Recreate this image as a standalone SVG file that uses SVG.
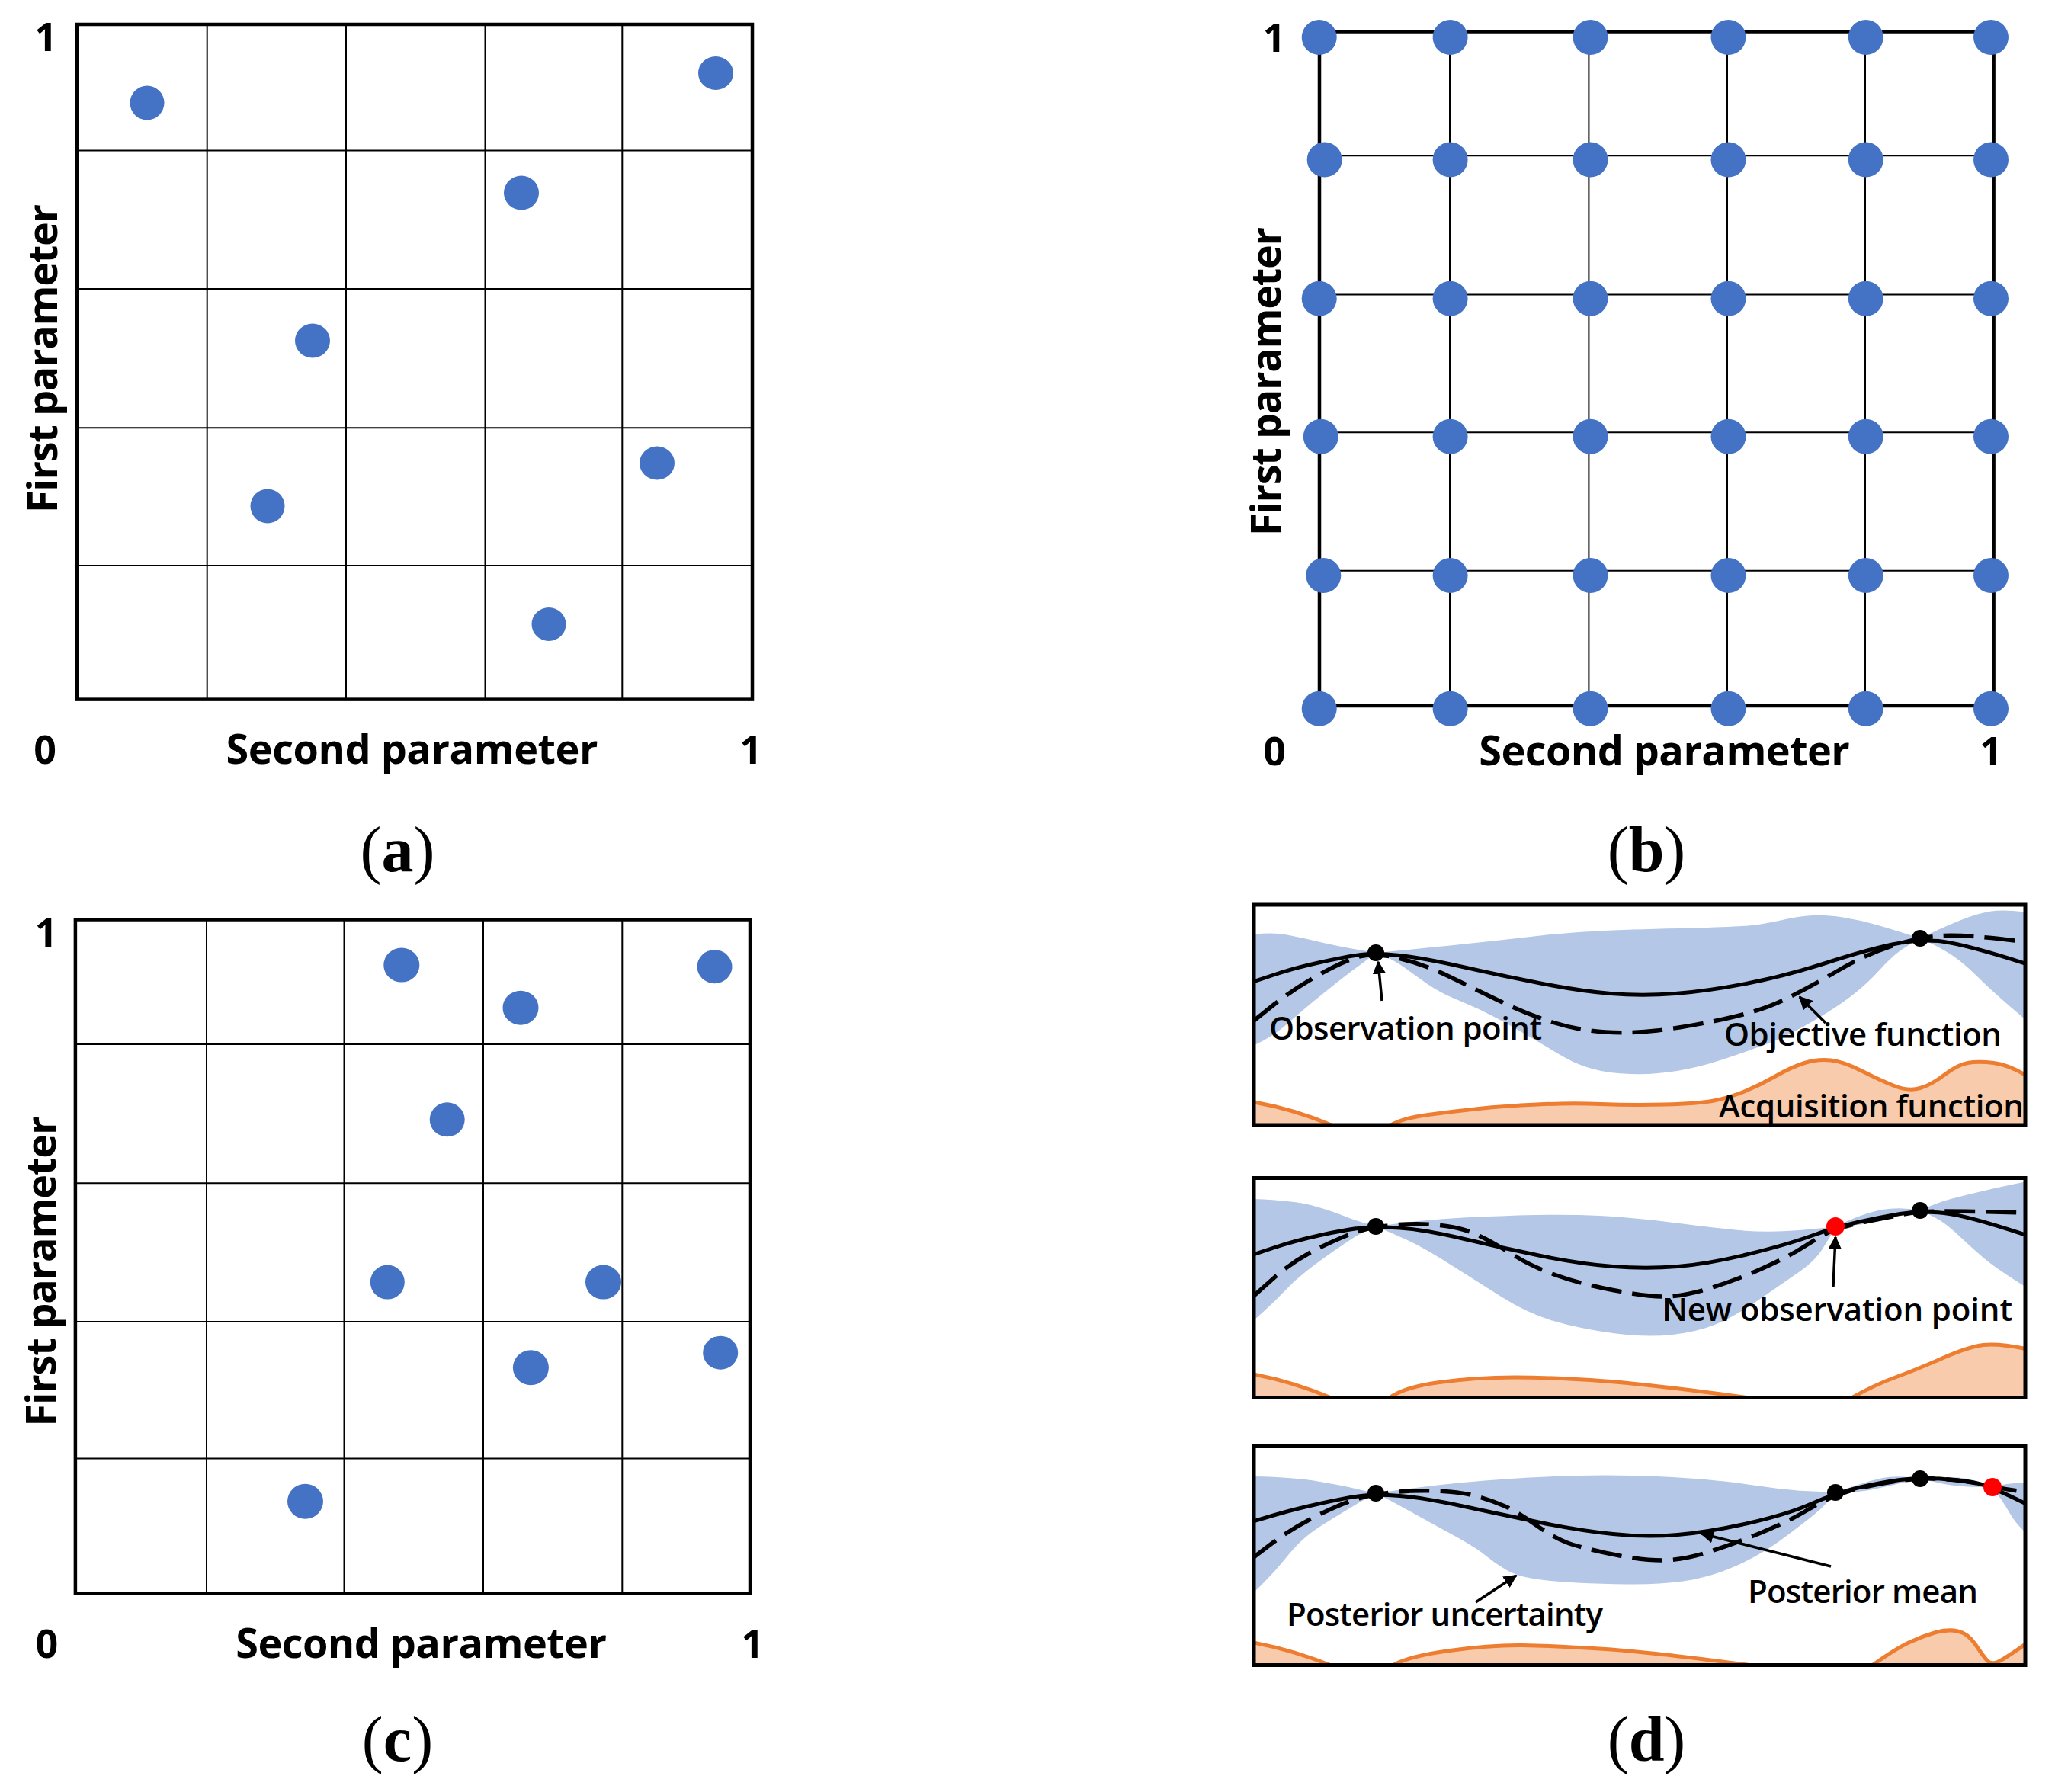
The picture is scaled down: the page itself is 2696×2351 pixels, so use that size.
<svg xmlns="http://www.w3.org/2000/svg" width="2696" height="2351" viewBox="0 0 2696 2351">
<style>
.grid{stroke:#000;stroke-width:2;fill:none}
.frame{stroke:#000;stroke-width:4.5;fill:none}
.sframe{stroke:#000;stroke-width:5;fill:none}
.dot{fill:#4472C4}
.ax{font-family:"Open Sans","Noto Sans","DejaVu Sans",sans-serif;font-weight:700;font-size:54px;fill:#000}
.num{font-family:"Open Sans","Noto Sans","DejaVu Sans",sans-serif;font-weight:700;font-size:52px;fill:#000;text-anchor:middle}
.cap{font-family:"Liberation Serif","Times New Roman",serif;font-size:84px;fill:#000;text-anchor:middle}
.lbl{font-family:"Open Sans","Noto Sans","DejaVu Sans",sans-serif;font-weight:600;font-size:42px;fill:#000}
.band{fill:#B4C7E7}
.acqf{fill:#F8CBAD}
.acqs{fill:none;stroke:#ED7D31;stroke-width:5}
.mean{fill:none;stroke:#000;stroke-width:5}
.obj{fill:none;stroke:#000;stroke-width:5.5;stroke-dasharray:40 14}
.arr{stroke:#000;stroke-width:3.5;fill:none;marker-end:url(#ah)}
.obs{fill:#000}
.newp{fill:#FF0000}
</style>
<defs>
<marker id="ah" viewBox="0 0 10 10" refX="9" refY="5" markerWidth="5" markerHeight="5" orient="auto" markerUnits="strokeWidth">
<path d="M0,0 L10,5 L0,10 Z" fill="#000"/>
</marker>
<clipPath id="c1"><rect x="1645" y="1187" width="1012" height="289"/></clipPath>
<clipPath id="c2"><rect x="1645" y="1545.5" width="1012" height="288"/></clipPath>
<clipPath id="c3"><rect x="1645" y="1897.5" width="1012" height="287"/></clipPath>
</defs>
<rect width="2696" height="2351" fill="#fff"/>

<!-- Panel (a) -->
<g id="panel-a">
<g class="grid">
<line x1="271.7" y1="32" x2="271.7" y2="917.6"/>
<line x1="454" y1="32" x2="454" y2="917.6"/>
<line x1="636.5" y1="32" x2="636.5" y2="917.6"/>
<line x1="816.3" y1="32" x2="816.3" y2="917.6"/>
<line x1="101" y1="197.6" x2="987" y2="197.6"/>
<line x1="101" y1="379" x2="987" y2="379"/>
<line x1="101" y1="561.3" x2="987" y2="561.3"/>
<line x1="101" y1="742" x2="987" y2="742"/>
</g>
<rect class="frame" x="101" y="32" width="886" height="885.6"/>
<g class="dot">
<ellipse cx="193" cy="135" rx="22.5" ry="22.5"/>
<ellipse cx="939" cy="96" rx="23" ry="22"/>
<ellipse cx="684" cy="253" rx="23" ry="22.5"/>
<ellipse cx="410" cy="447" rx="23" ry="22.5"/>
<ellipse cx="351" cy="664" rx="22.5" ry="22.5"/>
<ellipse cx="862" cy="607.5" rx="23" ry="22"/>
<ellipse cx="720" cy="819" rx="22.5" ry="22"/>
</g>
<text class="num" x="60" y="67">1</text>
<text class="num" x="59" y="1002">0</text>
<text class="num" x="985" y="1002">1</text>
<text class="ax" x="540.5" y="1002" text-anchor="middle" textLength="488">Second parameter</text>
<text class="ax" transform="translate(75,470.5) rotate(-90)" text-anchor="middle" textLength="405">First parameter</text>
</g>

<!-- Panel (b) -->
<g id="panel-b">
<g class="grid">
<line x1="1902" y1="41.5" x2="1902" y2="926"/>
<line x1="2084.4" y1="41.5" x2="2084.4" y2="926"/>
<line x1="2266" y1="41.5" x2="2266" y2="926"/>
<line x1="2447" y1="41.5" x2="2447" y2="926"/>
<line x1="1731" y1="204.3" x2="2615.6" y2="204.3"/>
<line x1="1731" y1="386.5" x2="2615.6" y2="386.5"/>
<line x1="1731" y1="567.3" x2="2615.6" y2="567.3"/>
<line x1="1731" y1="748.8" x2="2615.6" y2="748.8"/>
</g>
<rect class="frame" x="1731" y="41.5" width="884.6" height="884.5"/>
<g class="dot">
<circle cx="1730.7" cy="49" r="23"/><circle cx="1902.6" cy="49" r="23"/><circle cx="2086.5" cy="49" r="23"/><circle cx="2267.5" cy="49" r="23"/><circle cx="2447.8" cy="49" r="23"/><circle cx="2612" cy="49" r="23"/>
<circle cx="1737.7" cy="209.6" r="23"/><circle cx="1902.6" cy="209.6" r="23"/><circle cx="2086.5" cy="209.6" r="23"/><circle cx="2267.5" cy="209.6" r="23"/><circle cx="2447.8" cy="209.6" r="23"/><circle cx="2612" cy="209.6" r="23"/>
<circle cx="1730.7" cy="391.8" r="23"/><circle cx="1902.6" cy="391.8" r="23"/><circle cx="2086.5" cy="391.8" r="23"/><circle cx="2267.5" cy="391.8" r="23"/><circle cx="2447.8" cy="391.8" r="23"/><circle cx="2612" cy="391.8" r="23"/>
<circle cx="1732.8" cy="572.7" r="23"/><circle cx="1902.6" cy="572.7" r="23"/><circle cx="2086.5" cy="572.7" r="23"/><circle cx="2267.5" cy="572.7" r="23"/><circle cx="2447.8" cy="572.7" r="23"/><circle cx="2612" cy="572.7" r="23"/>
<circle cx="1736.3" cy="754.9" r="23"/><circle cx="1902.6" cy="754.9" r="23"/><circle cx="2086.5" cy="754.9" r="23"/><circle cx="2267.5" cy="754.9" r="23"/><circle cx="2447.8" cy="754.9" r="23"/><circle cx="2612" cy="754.9" r="23"/>
<circle cx="1730.7" cy="929.7" r="23"/><circle cx="1902.6" cy="929.7" r="23"/><circle cx="2086.5" cy="929.7" r="23"/><circle cx="2267.5" cy="929.7" r="23"/><circle cx="2447.8" cy="929.7" r="23"/><circle cx="2612" cy="929.7" r="23"/>
</g>
<text class="num" x="1671.5" y="68">1</text>
<text class="num" x="1672" y="1004">0</text>
<text class="num" x="2612" y="1004">1</text>
<text class="ax" x="2183.6" y="1004" text-anchor="middle" textLength="486.5">Second parameter</text>
<text class="ax" transform="translate(1680,500.5) rotate(-90)" text-anchor="middle" textLength="405">First parameter</text>
</g>

<!-- Panel (c) -->
<g id="panel-c">
<g class="grid">
<line x1="271" y1="1206.5" x2="271" y2="2090.4"/>
<line x1="451.5" y1="1206.5" x2="451.5" y2="2090.4"/>
<line x1="634" y1="1206.5" x2="634" y2="2090.4"/>
<line x1="816.3" y1="1206.5" x2="816.3" y2="2090.4"/>
<line x1="98.9" y1="1370" x2="984" y2="1370"/>
<line x1="98.9" y1="1552.3" x2="984" y2="1552.3"/>
<line x1="98.9" y1="1734" x2="984" y2="1734"/>
<line x1="98.9" y1="1913.6" x2="984" y2="1913.6"/>
</g>
<rect class="frame" x="98.9" y="1206.5" width="885.1" height="883.9"/>
<g class="dot">
<ellipse cx="526.8" cy="1266.1" rx="23.5" ry="22.5"/>
<ellipse cx="683" cy="1322.2" rx="23.5" ry="22.5"/>
<ellipse cx="937.5" cy="1268.2" rx="23" ry="22"/>
<ellipse cx="586.7" cy="1468.8" rx="23" ry="22.5"/>
<ellipse cx="508.3" cy="1682.1" rx="22.5" ry="22.5"/>
<ellipse cx="791.5" cy="1682.1" rx="23.5" ry="22.5"/>
<ellipse cx="696.4" cy="1794.3" rx="23.5" ry="23"/>
<ellipse cx="945.2" cy="1774.7" rx="23" ry="22"/>
<ellipse cx="400.5" cy="1969.7" rx="23.5" ry="23"/>
</g>
<text class="num" x="60.6" y="1241.5">1</text>
<text class="num" x="61.4" y="2175">0</text>
<text class="num" x="987" y="2175">1</text>
<text class="ax" x="552.6" y="2175" text-anchor="middle" textLength="486.7">Second parameter</text>
<text class="ax" transform="translate(73.3,1668) rotate(-90)" text-anchor="middle" textLength="407">First parameter</text>
</g>

<!-- Panel (d) sub 1 -->
<g id="panel-d1">
<g clip-path="url(#c1)">
<path class="band" d="M1644,1226 Q1670,1223 1688.5,1226.5 Q1707,1230 1732,1236 Q1757,1242 1805,1250 Q1827,1248 1867,1244 Q1907,1240 1940,1236.5 Q1973,1233 2016.5,1228 Q2060,1223 2105,1221 Q2150,1219 2220,1217.5 Q2290,1216 2310,1212.5 Q2330,1209 2345,1205.5 Q2360,1202 2377.5,1201 Q2395,1200 2417.5,1203.5 Q2440,1207 2462.5,1213.5 Q2485,1220 2519,1231 Q2548,1217 2571.5,1207.5 Q2595,1198 2612.5,1195.5 Q2630,1193 2660,1197 L2660,1340 Q2616,1303 2595.5,1282.5 Q2575,1262 2557.5,1251 Q2540,1240 2519,1231 Q2500,1242 2490,1249.5 Q2480,1257 2465,1273.5 Q2450,1290 2431,1305 Q2412,1320 2378,1340 Q2344,1360 2317,1370 Q2290,1380 2260,1390 Q2230,1400 2200,1405 Q2170,1410 2140,1409 Q2110,1408 2090,1402.5 Q2070,1397 2055,1388.5 Q2040,1380 2015,1365 Q1990,1350 1965,1336.5 Q1940,1323 1915,1313 Q1890,1303 1873.5,1291.5 Q1857,1280 1842,1269 Q1827,1258 1805,1250 Q1790,1262 1781.5,1268 Q1773,1274 1756.5,1287 Q1740,1300 1723.5,1313.5 Q1707,1327 1688.5,1343.5 Q1670,1360 1644,1372 Z"/>
<path class="acqf" d="M1640,1445 Q1700,1455 1756,1480 L1640,1480 Z"/>
<path class="acqs" d="M1640,1445 Q1700,1455 1756,1480"/>
<path class="acqf" d="M1822,1480 L1825,1476 Q1840,1467 1873.5,1462.5 Q1907,1458 1940,1454.5 Q1973,1451 2016.5,1449 Q2060,1447 2100,1448.5 Q2140,1450 2184,1449 Q2228,1448 2248.5,1444 Q2269,1440 2289.5,1431.5 Q2310,1423 2330,1411.5 Q2350,1400 2367.5,1394.5 Q2385,1389 2402,1391 Q2419,1393 2442.5,1405 Q2466,1417 2485,1424.5 Q2504,1432 2519,1427.5 Q2534,1423 2551,1410 Q2568,1397 2581.5,1394.5 Q2595,1392 2615.5,1394.5 Q2636,1397 2660,1412 L2662,1480 Z"/>
<path class="acqs" d="M1822,1480 L1825,1476 Q1840,1467 1873.5,1462.5 Q1907,1458 1940,1454.5 Q1973,1451 2016.5,1449 Q2060,1447 2100,1448.5 Q2140,1450 2184,1449 Q2228,1448 2248.5,1444 Q2269,1440 2289.5,1431.5 Q2310,1423 2330,1411.5 Q2350,1400 2367.5,1394.5 Q2385,1389 2402,1391 Q2419,1393 2442.5,1405 Q2466,1417 2485,1424.5 Q2504,1432 2519,1427.5 Q2534,1423 2551,1410 Q2568,1397 2581.5,1394.5 Q2595,1392 2615.5,1394.5 Q2636,1397 2660,1412"/>
<path class="mean" d="M1644,1288 L1672.5,1278.5 Q1698,1270 1732,1262.5 Q1766,1255 1785.5,1252.5 Q1805,1250 1836.5,1253.5 Q1868,1257 1919,1268.5 Q1970,1280 2021,1290 Q2072,1300 2113,1303.5 Q2154,1307 2198,1303.5 Q2242,1300 2293,1290 Q2344,1280 2395,1263.5 Q2446,1247 2482.5,1239 Q2519,1231 2550.5,1235.5 Q2582,1240 2660,1265"/>
<path class="obj" d="M1645,1339 L1672.5,1317 Q1698,1297 1732,1278 Q1766,1259 1785.5,1254.5 Q1805,1250 1836.5,1257.5 Q1868,1265 1902,1281.5 Q1936,1298 1970,1314.5 Q2004,1331 2038,1341.5 Q2072,1352 2106,1354 Q2140,1356 2174,1352 Q2208,1348 2259,1337.5 Q2310,1327 2344,1310 Q2378,1293 2412,1273 Q2446,1253 2482.5,1241 Q2519,1229 2550.5,1227.5 Q2582,1226 2660,1236"/>
</g>
<line class="arr" x1="1813" y1="1313" x2="1808" y2="1262"/>
<line class="arr" x1="2395" y1="1342" x2="2361" y2="1308"/>
<circle class="obs" cx="1805" cy="1250" r="11"/>
<circle class="obs" cx="2519" cy="1231" r="11"/>
<text class="lbl" x="1665" y="1364" textLength="358">Observation point</text>
<text class="lbl" x="2262" y="1372" textLength="364">Objective function</text>
<text class="lbl" x="2255" y="1466" textLength="400">Acquisition function</text>
<rect class="sframe" x="1645" y="1187" width="1012" height="289"/>
</g>

<!-- Panel (d) sub 2 -->
<g id="panel-d2">
<g clip-path="url(#c2)">
<path class="band" d="M1644,1573 Q1698,1575 1721.5,1581.5 Q1745,1588 1762.5,1595 Q1780,1602 1805,1609 Q1868,1600 1919,1597.5 Q1970,1595 2014,1594 Q2058,1593 2099,1595 Q2140,1597 2191,1603.5 Q2242,1610 2276,1613.5 Q2310,1617 2344,1615 Q2378,1613 2408,1609 Q2446,1591 2469.5,1587 Q2493,1583 2519,1588 Q2540,1578 2561,1572.5 Q2582,1567 2606,1561.5 Q2630,1556 2660,1550 L2660,1690 Q2620,1665 2605,1652.5 Q2590,1640 2572.5,1623.5 Q2555,1607 2545,1601 Q2535,1595 2519,1588 Q2480,1598 2463,1602.5 Q2446,1607 2408,1609 Q2400,1625 2390,1640 Q2380,1655 2362,1667.5 Q2344,1680 2310,1703.5 Q2276,1727 2252,1737 Q2228,1747 2194,1751 Q2160,1755 2116,1749 Q2072,1743 2038,1733 Q2004,1723 1970,1701.5 Q1936,1680 1902,1658.5 Q1868,1637 1847.5,1627.5 Q1827,1618 1805,1609 Q1785,1618 1775.5,1624 Q1766,1630 1748,1642.5 Q1730,1655 1714,1667.5 Q1698,1680 1684,1695 Q1670,1710 1644,1733 Z"/>
<path class="acqf" d="M1640,1802 Q1700,1813 1756,1838 L1640,1838 Z"/>
<path class="acqs" d="M1640,1802 Q1700,1813 1756,1838"/>
<path class="acqf" d="M1820,1838 L1823,1834 Q1841,1820 1888.5,1813.5 Q1936,1807 1987,1807 Q2038,1807 2106,1812 Q2174,1817 2324,1838 Z"/>
<path class="acqs" d="M1820,1838 L1823,1834 Q1841,1820 1888.5,1813.5 Q1936,1807 1987,1807 Q2038,1807 2106,1812 Q2174,1817 2324,1838"/>
<path class="acqf" d="M2426,1838 L2429,1834 Q2459,1817 2486.5,1807 Q2514,1797 2548,1782 Q2582,1767 2602,1764.5 Q2622,1762 2660,1770 L2662,1838 Z"/>
<path class="acqs" d="M2426,1838 L2429,1834 Q2459,1817 2486.5,1807 Q2514,1797 2548,1782 Q2582,1767 2602,1764.5 Q2622,1762 2660,1770"/>
<path class="mean" d="M1644,1646 L1672.5,1636.5 Q1698,1628 1732,1620.5 Q1766,1613 1785.5,1611 Q1805,1609 1836.5,1611 Q1868,1613 1919,1625 Q1970,1637 2021,1647.5 Q2072,1658 2116,1661.5 Q2160,1665 2201,1661.5 Q2242,1658 2293,1645.5 Q2344,1633 2376,1621.5 Q2408,1610 2437,1603.5 Q2466,1597 2492.5,1592.5 Q2519,1588 2550.5,1591.5 Q2582,1595 2660,1621"/>
<path class="obj" d="M1645,1700 L1672.5,1675.5 Q1698,1653 1732,1636.5 Q1766,1620 1785.5,1614.5 Q1805,1609 1829.5,1607 Q1854,1605 1878,1606.5 Q1902,1608 1919,1613 Q1936,1618 1953,1627.5 Q1970,1637 1990.5,1649.5 Q2011,1662 2041.5,1673 Q2072,1684 2116,1692.5 Q2160,1701 2184,1701 Q2208,1701 2242,1690.5 Q2276,1680 2310,1665 Q2344,1650 2364.5,1637 Q2385,1624 2396.5,1618 Q2408,1612 2427,1607.5 Q2446,1603 2469.5,1598.5 Q2493,1594 2506,1591.5 Q2519,1589 2550.5,1589 Q2582,1589 2660,1591"/>
</g>
<line class="arr" x1="2405" y1="1688" x2="2408" y2="1623"/>
<circle class="obs" cx="1805" cy="1609" r="11"/>
<circle class="obs" cx="2519" cy="1588" r="11"/>
<circle class="newp" cx="2408" cy="1609" r="12"/>
<text class="lbl" x="2181" y="1733" textLength="459">New observation point</text>
<rect class="sframe" x="1645" y="1545.5" width="1012" height="288"/>
</g>

<!-- Panel (d) sub 3 -->
<g id="panel-d3">
<g clip-path="url(#c3)">
<path class="band" d="M1644,1937 Q1698,1938 1732,1944 Q1766,1950 1778,1953 Q1790,1956 1805,1959 Q1868,1950 1919,1945 Q1970,1940 2038,1937 Q2106,1934 2174,1937 Q2242,1940 2293,1947.5 Q2344,1955 2367,1956 Q2390,1957 2408,1958 Q2450,1943 2470,1939 Q2490,1935 2519,1940 Q2560,1937 2577.5,1939.5 Q2595,1942 2614,1951 Q2635,1945 2660,1946 L2660,2013 Q2645,2000 2636.5,1985 Q2628,1970 2614,1951 Q2575,1951 2560,1948.5 Q2545,1946 2519,1940 Q2480,1949 2460,1953.5 Q2440,1958 2408,1958 Q2395,1975 2379.5,1987.5 Q2364,2000 2337,2020 Q2310,2040 2276,2055 Q2242,2070 2208,2074.5 Q2174,2079 2137,2078.5 Q2100,2078 2069,2076.5 Q2038,2075 2014,2071.5 Q1990,2068 1975,2059 Q1960,2050 1948,2040 Q1936,2030 1902,2011.5 Q1868,1993 1847.5,1981.5 Q1827,1970 1805,1959 Q1785,1970 1768.5,1980 Q1752,1990 1736,2000 Q1720,2010 1709,2020 Q1698,2030 1684,2047.5 Q1670,2065 1644,2090 Z"/>
<path class="acqf" d="M1640,2154 Q1700,2165 1756,2189 L1640,2189 Z"/>
<path class="acqs" d="M1640,2154 Q1700,2165 1756,2189"/>
<path class="acqf" d="M1824,2189 L1827,2185 Q1847,2173 1902,2165.5 Q1956,2158 1997,2158.5 Q2038,2159 2106,2163.5 Q2174,2168 2328,2189 Z"/>
<path class="acqs" d="M1824,2189 L1827,2185 Q1847,2173 1902,2165.5 Q1956,2158 1997,2158.5 Q2038,2159 2106,2163.5 Q2174,2168 2328,2189"/>
<path class="acqf" d="M2453,2189 L2456,2185 Q2487,2163 2504,2155 Q2521,2147 2538,2142 Q2555,2137 2568.5,2140 Q2582,2143 2592,2158 Q2602,2173 2607,2178.5 Q2612,2184 2620.5,2180.5 Q2629,2177 2660,2155 L2662,2189 Z"/>
<path class="acqs" d="M2453,2189 L2456,2185 Q2487,2163 2504,2155 Q2521,2147 2538,2142 Q2555,2137 2568.5,2140 Q2582,2143 2592,2158 Q2602,2173 2607,2178.5 Q2612,2184 2620.5,2180.5 Q2629,2177 2660,2155"/>
<path class="mean" d="M1644,1996 L1672.5,1987.5 Q1698,1980 1732,1972.5 Q1766,1965 1785.5,1962.5 Q1805,1960 1836.5,1962.5 Q1868,1965 1919,1976 Q1970,1987 2021,1997.5 Q2072,2008 2116,2012.5 Q2160,2017 2201,2013.5 Q2242,2010 2293,1998.5 Q2344,1987 2376,1973 Q2408,1959 2437,1952 Q2466,1945 2492.5,1941.5 Q2519,1938 2550.5,1940.5 Q2582,1943 2598,1947 Q2614,1951 2660,1974"/>
<path class="obj" d="M1642,2045 L1671,2023 Q1698,2003 1732,1986.5 Q1766,1970 1785.5,1965 Q1805,1960 1829.5,1957.5 Q1854,1955 1884.5,1956 Q1915,1957 1935.5,1962.5 Q1956,1968 1973,1975.5 Q1990,1983 2014,2000 Q2038,2017 2055,2023.5 Q2072,2030 2112.5,2038.5 Q2153,2047 2180.5,2047 Q2208,2047 2242,2036 Q2276,2025 2310,2011 Q2344,1997 2364.5,1985 Q2385,1973 2396.5,1967.5 Q2408,1962 2427,1956 Q2446,1950 2482.5,1944 Q2519,1938 2550.5,1940.5 Q2582,1943 2598,1947 Q2614,1951 2660,1958"/>
</g>
<line class="arr" x1="1936" y1="2102" x2="1989" y2="2067"/>
<line class="arr" x1="2402" y1="2055" x2="2232" y2="2012"/>
<circle class="obs" cx="1805" cy="1959" r="11"/>
<circle class="obs" cx="2408" cy="1958" r="11"/>
<circle class="obs" cx="2519" cy="1940" r="11"/>
<circle class="newp" cx="2614" cy="1951" r="12"/>
<text class="lbl" x="1688" y="2133" textLength="415">Posterior uncertainty</text>
<text class="lbl" x="2293" y="2103" textLength="302">Posterior mean</text>
<rect class="sframe" x="1645" y="1897.5" width="1012" height="287"/>
</g>

<!-- Captions -->
<g id="captions">
<text class="cap" x="521.5" y="1143">(<tspan font-weight="700">a</tspan>)</text>
<text class="cap" x="2160" y="1143">(<tspan font-weight="700">b</tspan>)</text>
<text class="cap" x="521.5" y="2310">(<tspan font-weight="700">c</tspan>)</text>
<text class="cap" x="2160" y="2310">(<tspan font-weight="700">d</tspan>)</text>
</g>
</svg>
